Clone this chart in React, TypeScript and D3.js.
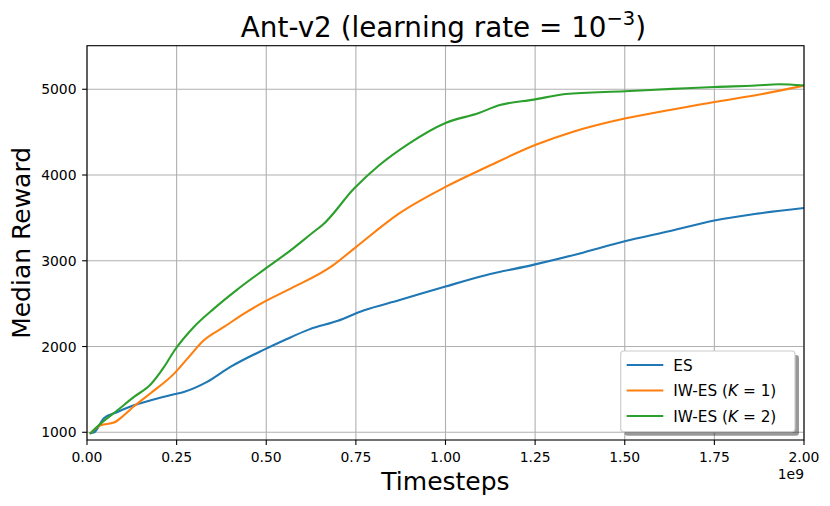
import React from "react";
import * as d3 from "d3";

// ---- data (x in units of 1e9 timesteps) ----
const esX = [0.01, 0.02, 0.047, 0.085, 0.131, 0.178, 0.243, 0.27, 0.335, 0.4, 0.494, 0.55, 0.62, 0.7, 0.773, 0.87, 1.0, 1.112, 1.247, 1.372, 1.5, 1.63, 1.75, 1.87, 2.0];
const esY = [990, 1000, 1163, 1237, 1315, 1373, 1443, 1470, 1587, 1762, 1964, 2073, 2200, 2300, 2423, 2539, 2700, 2831, 2955, 3083, 3227, 3350, 3470, 3550, 3615];

const k1X = [0.01, 0.038, 0.075, 0.103, 0.131, 0.178, 0.243, 0.28, 0.326, 0.382, 0.438, 0.494, 0.568, 0.684, 0.745, 0.87, 1.0, 1.112, 1.25, 1.354, 1.5, 1.633, 1.75, 1.865, 2.0];
const k1Y = [990, 1082, 1113, 1198, 1303, 1458, 1684, 1859, 2073, 2228, 2384, 2520, 2676, 2940, 3142, 3550, 3861, 4087, 4350, 4502, 4658, 4763, 4852, 4930, 5043];

const k2X = [0.01, 0.038, 0.085, 0.131, 0.178, 0.215, 0.243, 0.298, 0.354, 0.419, 0.494, 0.568, 0.638, 0.656, 0.745, 0.815, 0.898, 1.0, 1.093, 1.149, 1.247, 1.335, 1.5, 1.633, 1.75, 1.865, 1.93, 2.0];
const k2Y = [990, 1101, 1257, 1412, 1560, 1762, 1948, 2228, 2442, 2664, 2897, 3122, 3356, 3414, 3842, 4114, 4367, 4607, 4723, 4813, 4879, 4945, 4977, 5004, 5027, 5043, 5058, 5043];

const xTicks = [0, 0.25, 0.5, 0.75, 1.0, 1.25, 1.5, 1.75, 2.0];
const yTicks = [1000, 2000, 3000, 4000, 5000];
const seriesNames = ["ES", "IW-ES (K = 1)", "IW-ES (K = 2)"];
const colors = ["#1f77b4", "#ff7f0e", "#2ca02c"];

const W = 830, H = 506;
const L = 87, R = 804, T = 45.7, B = 440;
const FONT = "DejaVu Sans, sans-serif";

export default function App() {
  const x = d3.scaleLinear().domain([0, 2]).range([L, R]);
  const y = d3.scaleLinear().domain([910, 5508]).range([B, T]);
  const series = [
    { xs: esX, ys: esY },
    { xs: k1X, ys: k1Y },
    { xs: k2X, ys: k2Y },
  ];
  const line = d3
    .line<[number, number]>()
    .x((d) => x(d[0]))
    .y((d) => y(d[1]))
    .curve(d3.curveMonotoneX);

  const legX = 620.7, legY = 351, legW = 174.3, legH = 80.7;
  const rowY = [365, 390.5, 416];

  const legendLabel = (i: number) => {
    if (i === 0) return <tspan>ES</tspan>;
    const k = i === 1 ? "1" : "2";
    return (
      <>
        <tspan>IW-ES (</tspan>
        <tspan fontStyle="italic">K</tspan>
        <tspan> = {k})</tspan>
      </>
    );
  };

  return (
    <svg
      width={W}
      height={H}
      style={{ position: "absolute", left: 0, top: 0, background: "#fff" }}
      fontFamily={FONT}
    >
      <rect x={0} y={0} width={W} height={H} fill="#fff" />
      {/* grid */}
      {xTicks.map((t) => (
        <line key={"gx" + t} x1={x(t)} x2={x(t)} y1={T} y2={B} stroke="#b0b0b0" strokeWidth={1.1} />
      ))}
      {yTicks.map((t) => (
        <line key={"gy" + t} x1={L} x2={R} y1={y(t)} y2={y(t)} stroke="#b0b0b0" strokeWidth={1.1} />
      ))}
      {/* series */}
      <g clipPath="url(#clip)">
        {series.map((s, i) => (
          <path
            key={i}
            d={line(s.xs.map((v, j) => [v, s.ys[j]] as [number, number])) || ""}
            fill="none"
            stroke={colors[i]}
            strokeWidth={2.1}
            strokeLinejoin="round"
            strokeLinecap="square"
          />
        ))}
      </g>
      <defs>
        <clipPath id="clip">
          <rect x={L} y={T} width={R - L} height={B - T} />
        </clipPath>
      </defs>
      {/* spines */}
      <rect x={L} y={T} width={R - L} height={B - T} fill="none" stroke="#000" strokeWidth={1.1} />
      {/* x ticks */}
      {xTicks.map((t) => (
        <g key={"tx" + t}>
          <line x1={x(t)} x2={x(t)} y1={B} y2={B + 4.9} stroke="#000" strokeWidth={1.1} />
          <text x={x(t)} y={461.7} fontSize={13.9} textAnchor="middle" fill="#000">
            {t.toFixed(2)}
          </text>
        </g>
      ))}
      {/* y ticks */}
      {yTicks.map((t) => (
        <g key={"ty" + t}>
          <line x1={L - 4.9} x2={L} y1={y(t)} y2={y(t)} stroke="#000" strokeWidth={1.1} />
          <text x={76.5} y={y(t) + 5} fontSize={13.9} textAnchor="end" fill="#000">
            {t}
          </text>
        </g>
      ))}
      <text x={R} y={479} fontSize={13.9} textAnchor="end" fill="#000">1e9</text>
      {/* axis labels */}
      <text x={(L + R) / 2} y={490} fontSize={25} textAnchor="middle" fill="#000">Timesteps</text>
      <text
        transform={`translate(29.5, ${(T + B) / 2}) rotate(-90)`}
        fontSize={25}
        textAnchor="middle"
        fill="#000"
      >
        Median Reward
      </text>
      {/* title */}
      <text x={443.5} y={36.7} fontSize={27.8} textAnchor="middle" fill="#000">
        <tspan>Ant-v2 (learning rate = 10</tspan>
        <tspan fontSize={19.5} dy={-11.7}>−3</tspan>
        <tspan dy={11.7}>)</tspan>
      </text>
      {/* legend */}
      <rect x={legX + 4} y={legY + 4} width={legW} height={legH} rx={3} fill="#000" opacity={0.4} />
      <rect x={legX} y={legY} width={legW} height={legH} rx={3} fill="#fff" stroke="#cccccc" strokeWidth={1.1} />
      {seriesNames.map((n, i) => (
        <g key={n}>
          <line x1={626.7} x2={663.3} y1={rowY[i]} y2={rowY[i]} stroke={colors[i]} strokeWidth={2.1} />
          <text x={673.3} y={rowY[i] + 5.5} fontSize={15.3} fill="#000">
            {legendLabel(i)}
          </text>
        </g>
      ))}
    </svg>
  );
}
